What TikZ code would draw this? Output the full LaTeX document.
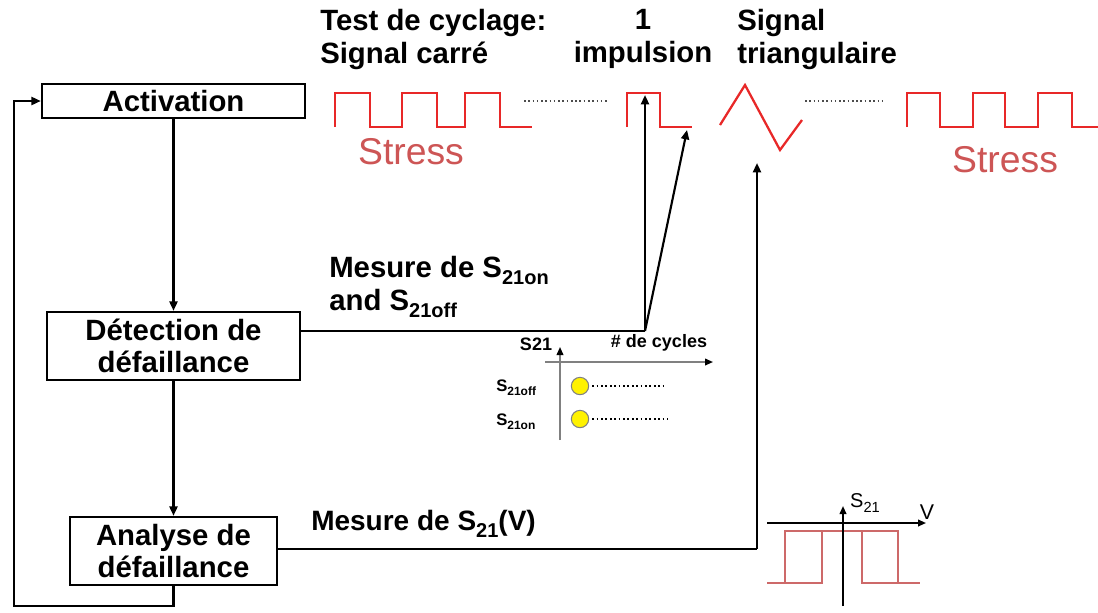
\documentclass[tikz,border=0pt]{standalone}
\usepackage{fontspec}
\setmainfont{Liberation Sans}
\usetikzlibrary{arrows.meta}
\definecolor{wave}{RGB}{232,40,40}
\definecolor{stresscol}{RGB}{205,85,85}
\definecolor{rose}{RGB}{205,105,105}
\newcommand\subs[2][14]{\raisebox{-0.45ex}{\fontsize{#1}{#1}\selectfont #2}}
\begin{document}
\begin{tikzpicture}[x=0.75pt,y=-0.75pt,
 box/.style={draw, line width=1.8pt, inner sep=0pt, align=center, font=\bfseries\fontsize{22}{24}\selectfont},
 conn/.style={line width=1.6pt},
 arr/.style={conn, -{Triangle[length=7pt,width=6pt]}},
 lbl/.style={font=\bfseries\fontsize{22}{24.5}\selectfont, inner sep=0pt},
 small/.style={font=\bfseries\fontsize{12.5}{14}\selectfont, inner sep=0pt},
 sig/.style={wave, line width=1.7pt, line join=miter},
 dots/.style={dotted, line width=1.2pt, gray!60!black},
 stress/.style={font=\fontsize{28}{30}\selectfont, text=stresscol, inner sep=0pt},
]
\useasboundingbox (0,0) rectangle (1098,612);

% boxes
\node[box, minimum width=197.25pt, minimum height=25.5pt] (act) at (173.5,101) {Activation};
\node[box, minimum width=189.75pt, minimum height=51pt] (det) at (173.5,346) {Détection de\\défaillance};
\node[box, minimum width=155.25pt, minimum height=51pt] (ana) at (173.5,551) {Analyse de\\défaillance};

% vertical flow
\draw[arr] (act.south) -- (det.north);
\draw[arr] (det.south) -- (ana.north);
\coordinate (fb1) at (173.5,606);
\coordinate (fb2) at (14,606);
\coordinate (fb3) at (14,101);
\draw[arr] (ana.south) -- (fb1) -- (fb2) -- (fb3) -- (act.west);

% top labels
\node[lbl, align=left, anchor=north west] (tl1) at (320,9) {Test de cyclage:\\Signal carré};
\node[lbl, align=center, anchor=north] (tl2) at (643,9) {1\\impulsion};
\node[lbl, align=left, anchor=north west] (tl3) at (737,9) {Signal\\triangulaire};

% signals
\draw[sig] (335,127) -- (335,93) -- (370,93) -- (370,127) -- (402,127) -- (402,93) -- (437,93) -- (437,127) -- (465,127) -- (465,93) -- (500,93) -- (500,127) -- (532,127);
\draw[dots] (524,101) -- (607,101);
\draw[sig] (627,127) -- (627,93) -- (660,93) -- (660,127) -- (692,127);
\draw[sig] (720,125) -- (745,85) -- (780,150) -- (802,120);
\draw[dots] (805,101) -- (885,101);
\draw[sig] (907,127) -- (907,93) -- (940,93) -- (940,127) -- (973,127) -- (973,93) -- (1005,93) -- (1005,127) -- (1038,127) -- (1038,93) -- (1072,93) -- (1072,127) -- (1098,127);

\node[stress] (st1) at (411,152) {Stress};
\node[stress] (st2) at (1005,160) {Stress};

% measurement from detection
\coordinate (dj) at (645,331);
\coordinate (ptop) at (645,95);
\coordinate (plow) at (687,130);
\draw[conn] (det.east |- dj) -- (dj);
\draw[arr] (dj) -- (ptop);
\draw[arr] (dj) -- (plow);
\node[lbl, align=left, anchor=west] (m1) at (329,287) {Mesure de S\subs[15]{21on}\\and S\subs[15]{21off}};

% measurement from analysis
\coordinate (aj) at (757,549);
\coordinate (ttop) at (757,163);
\draw[conn] (ana.east |- aj) -- (aj);
\draw[arr] (aj) -- (ttop);
\node[lbl, anchor=west, font=\bfseries\fontsize{21}{24}\selectfont] (m2) at (311,524) {Mesure de S\subs[15]{21}(V)};

% small chart
\coordinate (ya0) at (560,440);
\coordinate (ya1) at (560,347);
\coordinate (xa0) at (545,362);
\coordinate (xa1) at (713,362);
\draw[gray, line width=1.2pt, -{Triangle[length=6pt,width=5pt,color=black]}] (ya0) -- (ya1);
\draw[gray, line width=1.2pt, -{Triangle[length=6pt,width=5pt,color=black]}] (xa0) -- (xa1);
\node[small, font=\bfseries\fontsize{13.5}{14}\selectfont] (ys) at (536,344) {S21};
\node[small, font=\bfseries\fontsize{13.5}{14}\selectfont] (xs) at (659,343) {\# de cycles};
\node[small, anchor=west] (soff) at (496,388) {S\subs[9]{21off}};
\node[small, anchor=west] (son) at (496,422) {S\subs[9]{21on}};
\node[circle, draw=gray, fill=yellow, minimum size=13pt, inner sep=0pt, line width=0.8pt] (c1) at (580,386) {};
\node[circle, draw=gray, fill=yellow, minimum size=13pt, inner sep=0pt, line width=0.8pt] (c2) at (580,419) {};
\coordinate (d1) at (665,386);
\coordinate (d2) at (668,419);
\draw[dots, black, line width=1.3pt] (c1.east) ++(3,0) -- (d1);
\draw[dots, black, line width=1.3pt] (c2.east) ++(3,0) -- (d2);

% bottom right chart
\draw[rose, line width=1.5pt] (767,583) -- (822,583) -- (822,531);
\draw[rose, line width=1.5pt] (785,583) -- (785,531) -- (898,531) -- (898,583);
\draw[rose, line width=1.5pt] (862,531) -- (862,583) -- (920,583);
\coordinate (bx0) at (767,523);
\coordinate (bx1) at (926,523);
\coordinate (by0) at (843,606);
\coordinate (by1) at (843,506);
\draw[conn, line width=1.3pt, -{Triangle[length=6pt,width=5pt]}] (bx0) -- (bx1);
\draw[conn, line width=1.3pt, -{Triangle[length=6pt,width=5pt]}] (by0) -- (by1);
\node[inner sep=0pt, font=\fontsize{15}{15}\selectfont] (s21) at (865,503) {S\subs[11]{21}};
\node[inner sep=0pt, font=\fontsize{16}{16}\selectfont] (vl) at (927,512) {V};
\end{tikzpicture}
\end{document}
